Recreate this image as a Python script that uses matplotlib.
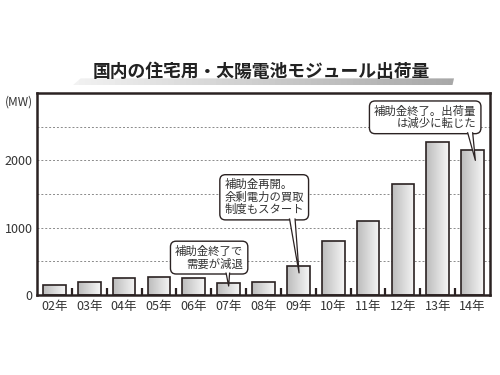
import numpy as np
import matplotlib
matplotlib.use("Agg")
import matplotlib.pyplot as plt
from matplotlib.colors import LinearSegmentedColormap
from matplotlib.patches import Polygon
from matplotlib.ticker import FixedLocator

plt.rcParams['font.family'] = ['Noto Sans CJK JP', 'DejaVu Sans']

# データ（国内の住宅用太陽電池モジュール出荷量, MW）
years = ['02年', '03年', '04年', '05年', '06年', '07年', '08年',
         '09年', '10年', '11年', '12年', '13年', '14年']
shipments = [150, 188, 248, 263, 254, 179, 194, 433, 806, 1104, 1642, 2275, 2160]
y_ticks = [0, 1000, 2000]
grid_levels = [500, 1000, 1500, 2000, 2500]

notes = [
    # (text, box x, box y, tail start x, tip x, tip y, align)
    ('補助金終了で\n需要が減退', 4.44, 557, 4.95, 5.0, 135, 'right'),
    ('補助金再開。\n余剰電力の買取\n制度もスタート', 6.02, 1452, 6.75, 7.02, 330, 'left'),
    ('補助金終了。出荷量\nは減少に転じた', 10.64, 2639, 11.85, 12.08, 2000, 'right'),
]

DARK = '#2b2222'
bar_cmap = LinearSegmentedColormap.from_list('bar', ['#bcbcbc', '#f6f6f6'])
band_cmap = LinearSegmentedColormap.from_list('band', ['#f2f2f2', '#a8a8a8'])

fig = plt.figure(figsize=(5, 3.75), dpi=100)
ax = fig.add_axes([0.074, 0.213, 0.906, 0.539])

x = np.arange(len(years))
bars = ax.bar(x, shipments, width=0.65, color='none', edgecolor=DARK,
              linewidth=1.2, zorder=3)

# グラデーション塗り
grad = np.linspace(0, 1, 64).reshape(1, -1)
for rect in bars:
    x0 = rect.get_x()
    im = ax.imshow(grad, extent=[x0, x0 + rect.get_width(), 0, rect.get_height()],
                   aspect='auto', cmap=bar_cmap, zorder=2, origin='lower')
    im.set_clip_path(rect)

ax.set_xlim(-0.5, len(years) - 0.5)
ax.set_ylim(0, 3000)

for lv in grid_levels:
    ax.axhline(lv, color='#8a8a8a', lw=0.7, ls=(0, (2, 2)), zorder=1)

for s in ax.spines.values():
    s.set_color(DARK)
    s.set_linewidth(1.8)

ax.set_xticks(x)
ax.set_xticklabels(years)
ax.xaxis.set_minor_locator(FixedLocator(x[:-1] + 0.5))
ax.tick_params(axis='x', which='major', length=0, pad=3.5, labelsize=9, labelcolor='#333333')
ax.tick_params(axis='x', which='minor', direction='in', length=5, width=1.6, color=DARK)
ax.set_yticks(y_ticks)
ax.tick_params(axis='y', length=0, pad=3, labelsize=9, labelcolor='#333333')

# 吹き出し
for text, bx, by, sx, tx, ty, align in notes:
    kw = dict(fontsize=8.2, color='#333333', ha='center', va='center',
              multialignment=align, linespacing=1.15)
    ax.text(bx, by, text, zorder=5,
            bbox=dict(boxstyle='round,pad=0.4,rounding_size=0.5', fc='white', ec=DARK, lw=1.0), **kw)
    ax.annotate('', xy=(tx, ty), xytext=(sx, by), zorder=6,
                arrowprops=dict(arrowstyle='wedge,tail_width=0.55,shrink_factor=0.5',
                                fc='white', ec=DARK, lw=0.9, shrinkA=0, shrinkB=0))
    ax.text(bx, by, text, zorder=7,
            bbox=dict(boxstyle='round,pad=0.27', fc='white', ec='none'), **kw)

# タイトルと影
band_ax = fig.add_axes([0.146, 0.773, 0.762, 0.018])
band_ax.axis('off')
band_im = band_ax.imshow(grad, extent=[0, 1, 0, 1], aspect='auto', cmap=band_cmap)
band_poly = Polygon([(0, 0), (0.996, 0), (1, 1), (0.02, 1)], closed=True,
                    transform=band_ax.transAxes, fc='none', ec='none')
band_ax.add_patch(band_poly)
band_im.set_clip_path(band_poly)
band_ax.set_xlim(0, 1)
band_ax.set_ylim(0, 1)

fig.text(0.522, 0.808, '国内の住宅用・太陽電池モジュール出荷量', ha='center', va='center',
         fontsize=12.8, fontweight='bold', color='#222222')
fig.text(0.01, 0.728, '(MW)', ha='left', va='center', fontsize=8.5, color='#333333')

fig.savefig('out.png', dpi=100)
